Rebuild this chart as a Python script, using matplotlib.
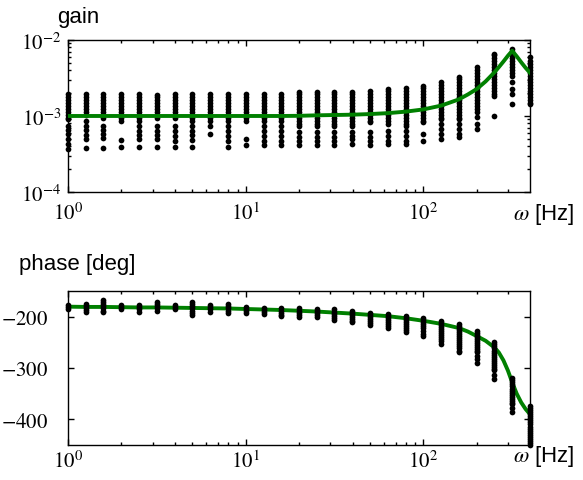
import matplotlib
matplotlib.use('Agg')
import matplotlib.pyplot as plt
from matplotlib.ticker import FuncFormatter, NullFormatter, LogLocator, FixedLocator
import numpy as np

plt.rcParams['mathtext.fontset'] = 'stix'
plt.rcParams['font.family'] = ['Liberation Sans', 'DejaVu Sans']

# measured frequencies [Hz]
freqs = [1.0, 1.26, 1.58, 2.0, 2.51, 3.16, 3.98, 5.01, 6.31, 7.94,
         10.0, 12.6, 15.8, 20.0, 25.1, 31.6, 39.8, 50.1, 63.1, 79.4,
         100.0, 126.0, 158.0, 200.0, 251.0, 316.0, 398.0]

# gain estimates per frequency (units of 1e-3)
gain_pts = [
    [1.95, 1.78, 1.63, 1.49, 1.36, 1.24, 1.13, 1.03, 0.94, 0.91, 0.745, 0.66, 0.58, 0.50, 0.43, 0.37],
    [1.95, 1.78, 1.63, 1.49, 1.36, 1.24, 1.13, 1.03, 0.86, 0.745, 0.655, 0.56, 0.50, 0.375],
    [1.95, 1.78, 1.63, 1.49, 1.36, 1.24, 1.13, 1.03, 0.94, 0.745, 0.655, 0.58, 0.51, 0.38],
    [1.95, 1.78, 1.63, 1.49, 1.36, 1.24, 1.13, 1.03, 0.94, 0.86, 0.49, 0.39],
    [1.95, 1.78, 1.63, 1.49, 1.36, 1.24, 1.13, 1.03, 0.94, 0.86, 0.745, 0.64, 0.56, 0.50, 0.39],
    [1.90, 1.78, 1.63, 1.49, 1.36, 1.24, 1.13, 1.03, 0.94, 0.745, 0.64, 0.56, 0.50, 0.39],
    [1.95, 1.78, 1.63, 1.49, 1.36, 1.24, 1.13, 1.03, 0.94, 0.745, 0.64, 0.55, 0.47, 0.39],
    [1.95, 1.78, 1.63, 1.49, 1.36, 1.24, 1.13, 1.03, 0.94, 0.86, 0.745, 0.64, 0.56, 0.48, 0.39],
    [1.95, 1.78, 1.63, 1.49, 1.36, 1.24, 1.13, 1.03, 0.94, 0.86, 0.745, 0.58],
    [1.95, 1.78, 1.63, 1.49, 1.36, 1.24, 1.13, 1.03, 0.94, 0.86, 0.745, 0.64, 0.55, 0.47, 0.39],
    [1.95, 1.78, 1.63, 1.49, 1.36, 1.24, 1.13, 1.03, 0.94, 0.86, 0.50, 0.41],
    [1.95, 1.78, 1.63, 1.49, 1.36, 1.24, 1.13, 1.03, 0.94, 0.86, 0.745, 0.64, 0.55, 0.47, 0.41],
    [1.95, 1.78, 1.63, 1.49, 1.36, 1.24, 1.13, 1.03, 0.94, 0.86, 0.745, 0.64, 0.55, 0.47, 0.41],
    [2.05, 1.95, 1.78, 1.63, 1.49, 1.36, 1.24, 1.13, 1.03, 0.94, 0.86, 0.79, 0.745, 0.61, 0.525, 0.47, 0.41],
    [2.05, 1.95, 1.78, 1.63, 1.49, 1.36, 1.24, 1.13, 1.03, 0.94, 0.86, 0.79, 0.745, 0.61, 0.525, 0.47, 0.41],
    [2.05, 1.95, 1.78, 1.63, 1.49, 1.36, 1.24, 1.13, 1.03, 0.94, 0.86, 0.79, 0.745, 0.61, 0.525, 0.47, 0.41],
    [2.08, 1.95, 1.78, 1.63, 1.49, 1.36, 1.24, 1.13, 1.03, 0.94, 0.86, 0.79, 0.745, 0.61, 0.55, 0.50, 0.43],
    [2.15, 1.95, 1.78, 1.63, 1.49, 1.36, 1.24, 1.13, 1.03, 0.94, 0.86, 0.83, 0.61, 0.525, 0.47, 0.41],
    [2.27, 2.13, 1.95, 1.78, 1.63, 1.49, 1.36, 1.24, 1.13, 1.03, 0.94, 0.86, 0.79, 0.64, 0.55, 0.47, 0.43],
    [2.33, 2.13, 1.95, 1.78, 1.63, 1.49, 1.36, 1.24, 1.13, 1.03, 0.94, 0.86, 0.79, 0.745, 0.64, 0.55, 0.47, 0.43],
    [2.50, 2.33, 2.13, 1.95, 1.78, 1.63, 1.49, 1.36, 1.24, 1.13, 1.03, 0.94, 0.86, 0.83, 0.58, 0.47],
    [2.77, 2.55, 2.33, 2.13, 1.95, 1.78, 1.63, 1.49, 1.36, 1.24, 1.13, 1.03, 0.94, 0.91, 0.785, 0.674, 0.58, 0.50],
    [3.23, 3.05, 2.80, 2.55, 2.33, 2.13, 1.95, 1.78, 1.63, 1.49, 1.36, 1.24, 1.13, 1.03, 0.94, 0.91, 0.785, 0.674, 0.58, 0.525],
    [4.37, 4.00, 3.65, 3.35, 3.05, 2.80, 2.55, 2.33, 2.13, 1.95, 1.78, 1.63, 1.49, 1.36, 1.24, 1.12, 0.96, 0.785, 0.674],
    [6.55, 6.30, 5.80, 5.30, 4.80, 4.40, 4.00, 3.65, 3.35, 3.05, 2.80, 2.55, 2.33, 2.13, 1.95, 1.85, 1.00],
    [7.60, 6.90, 6.30, 5.80, 5.30, 4.80, 4.40, 4.00, 3.65, 3.40, 2.77, 2.27, 1.95, 1.44],
    [5.90, 5.30, 4.80, 4.40, 4.00, 3.65, 3.35, 3.05, 2.80, 2.55, 2.33, 2.13, 1.95, 1.78, 1.63, 1.49, 1.44],
]

# phase estimates per frequency [deg]
phase_pts = [
    [-177, -181, -185],
    [-175, -179, -183, -187, -191],
    [-168, -172, -176, -180, -184, -188, -190],
    [-178, -182, -186],
    [-178, -182, -186, -190],
    [-172, -176, -180, -184, -188],
    [-178, -182, -186],
    [-172, -176, -180, -184, -188, -192, -196],
    [-178, -182, -186, -190],
    [-176, -180, -184, -188, -192],
    [-181, -185, -189, -193],
    [-183, -187, -191, -195],
    [-184, -188, -192, -196, -199],
    [-184, -188, -192, -196, -200],
    [-185, -189, -193, -197, -201],
    [-186, -190, -194, -198, -202, -206],
    [-189, -193, -197, -201, -205, -209, -211],
    [-193, -197, -201, -205, -209, -213, -217],
    [-195, -199, -203, -207, -211, -215, -219, -223],
    [-198, -202, -206, -210, -214, -218, -222, -226, -230],
    [-203, -207, -211, -215, -219, -223, -227, -234, -237],
    [-208, -212, -216, -220, -224, -228, -232, -236, -240, -244, -248, -253],
    [-214, -218, -222, -226, -230, -234, -238, -242, -246, -250, -254, -258, -262, -266, -269],
    [-227, -231, -235, -239, -243, -247, -251, -255, -259, -263, -267, -269, -276, -282, -290],
    [-250, -254, -258, -262, -266, -270, -274, -278, -282, -286, -290, -294, -298, -302, -304, -314, -321],
    [-320, -324, -328, -332, -336, -340, -344, -348, -352, -356, -360, -364, -368, -370, -377, -385],
    [-374, -378, -382, -386, -390, -394, -398, -402, -406, -410, -414, -418, -422, -426, -430, -434, -438, -442, -446, -450],
]

# model curve
line_freqs = [1.0, 1.26, 1.58, 2.0, 2.51, 3.16, 3.98, 5.01, 6.31, 7.94,
              10.0, 12.6, 15.8, 20.0, 25.1, 31.6, 39.8, 50.1, 63.1, 79.4,
              100.0, 126.0, 158.0, 178.0, 200.0, 224.0, 251.0, 266.0, 282.0,
              299.0, 316.0, 335.0, 355.0, 376.0, 398.0]
gain_line = [1.0, 1.0, 1.0, 1.0, 1.0, 1.0, 1.0, 1.0, 1.0, 1.0,
             1.0, 1.0, 1.0, 1.005, 1.02, 1.03, 1.04, 1.06, 1.09, 1.14,
             1.22, 1.37, 1.65, 1.92, 2.27, 2.85, 3.75, 4.4, 5.2,
             6.2, 7.2, 6.1, 5.1, 4.3, 3.7]
phase_line = [-180.5, -181, -181, -181.5, -182, -182, -182.5, -183, -183.5, -184,
              -185, -186, -187, -188.5, -190, -192, -194, -196.5, -199, -203,
              -208, -214, -222, -229, -238, -247, -260, -270, -285,
              -305, -328, -350, -367, -380, -390]


def pow10(v, pos):
    return r'$10^{%d}$' % int(round(np.log10(v)))


def style(ax):
    ax.tick_params(which='both', direction='in', top=True, right=True,
                   width=1.0, labelsize=15)
    ax.tick_params(which='major', length=4)
    ax.tick_params(which='minor', length=2)
    for s in ax.spines.values():
        s.set_linewidth(1.0)
    ax.set_xscale('log')
    ax.set_xlim(1, 10 ** 2.6)
    ax.xaxis.set_major_formatter(FuncFormatter(pow10))
    ax.xaxis.set_minor_formatter(NullFormatter())


fig = plt.figure(figsize=(5.83, 4.81), dpi=100)
ax1 = fig.add_axes([0.1166, 0.5988, 0.7925, 0.316])
ax2 = fig.add_axes([0.1166, 0.0728, 0.7925, 0.3201])

# gain
for f, col in zip(freqs, gain_pts):
    ax1.scatter([f] * len(col), np.array(col) * 1e-3, s=17, c='k',
                linewidths=0, clip_on=False, zorder=2)
ax1.plot(line_freqs, np.array(gain_line) * 1e-3, color='green', lw=2.8, zorder=3)
style(ax1)
ax1.set_yscale('log')
ax1.set_ylim(1e-4, 1e-2)
ax1.yaxis.set_major_locator(LogLocator(base=10, numticks=5))
ax1.yaxis.set_major_formatter(FuncFormatter(pow10))
ax1.yaxis.set_minor_formatter(NullFormatter())
ax1.tick_params(axis='x', pad=7)
ax1.tick_params(axis='y', pad=5)

# phase
ax2.plot(line_freqs, phase_line, color='green', lw=2.8, zorder=2)
for f, col in zip(freqs, phase_pts):
    ax2.scatter([f] * len(col), col, s=17, c='k',
                linewidths=0, clip_on=False, zorder=3)
style(ax2)
ax2.set_ylim(-450, -150)
ax2.yaxis.set_major_locator(FixedLocator([-400, -300, -200]))
ax2.yaxis.set_major_formatter(FuncFormatter(lambda v, p: r'$-%d$' % abs(v)))
ax2.tick_params(axis='x', pad=3)
ax2.tick_params(axis='y', pad=14)

fig.text(0.0978, 0.952, 'gain', fontsize=16, va='baseline')
fig.text(0.0326, 0.439, 'phase [deg]', fontsize=16, va='baseline')
fig.text(0.88, 0.5426, r'$\omega$ [Hz]', fontsize=16, va='baseline')
fig.text(0.88, 0.040, r'$\omega$ [Hz]', fontsize=16, va='baseline')

fig.savefig('out.png', dpi=100)
